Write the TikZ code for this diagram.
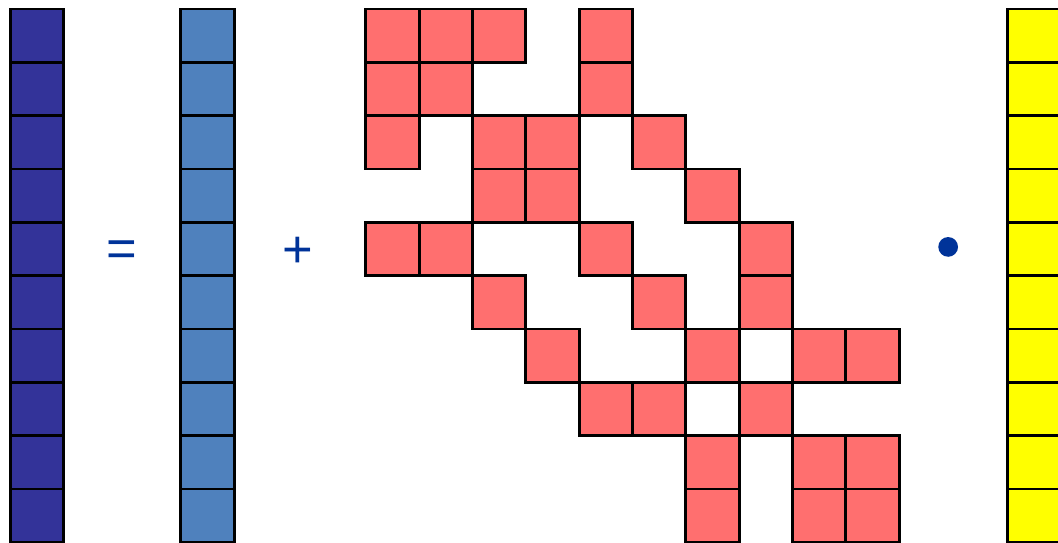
\documentclass[tikz,border=0pt]{standalone}
\usepackage{fontspec}
\setmainfont{Liberation Sans}
\usepackage{xcolor}
\usetikzlibrary{positioning}

\definecolor{vecdark}{HTML}{333399}
\definecolor{vecsteel}{HTML}{4F81BD}
\definecolor{matred}{HTML}{FF6F6F}
\definecolor{vecyellow}{HTML}{FFFF00}
\definecolor{opblue}{HTML}{003399}

\begin{document}
\begin{tikzpicture}[
    cell/.style={draw, line width=1.5pt, minimum size=1cm, inner sep=0pt, outer sep=0pt},
    op/.style={text=opblue, font=\fontsize{28}{30}\selectfont, inner sep=0pt},
]
\useasboundingbox (0,0) rectangle (19.84,10.18);

% vectors: y = A x + b
\foreach \r in {0,...,9} {
    \node[cell, fill=vecdark] (y\r) at (0.69, 9.51-\r) {};
    \node[cell, fill=vecsteel] (b\r) at (3.89, 9.51-\r) {};
    \node[cell, fill=vecyellow] (x\r) at (19.4, 9.51-\r) {};
}

% sparse matrix entries (row/col)
\foreach \r/\c in {0/0,0/1,0/2,0/4,1/0,1/1,1/4,2/0,2/2,2/3,2/5,3/2,3/3,3/6,
    4/0,4/1,4/4,4/7,5/2,5/5,5/7,6/3,6/6,6/8,6/9,7/4,7/5,7/7,8/6,8/8,8/9,9/6,9/8,9/9}
    \node[cell, fill=matred] (a\r-\c) at (7.36+\c, 9.51-\r) {};

\node[op] (eq) at (2.29, 5.43) {=};
\node[op] (plus) at (5.59, 5.45) {+};
\node[circle, fill=opblue, minimum size=0.37cm, inner sep=0pt] (dot) at (17.78, 5.55) {};

\end{tikzpicture}
\end{document}
